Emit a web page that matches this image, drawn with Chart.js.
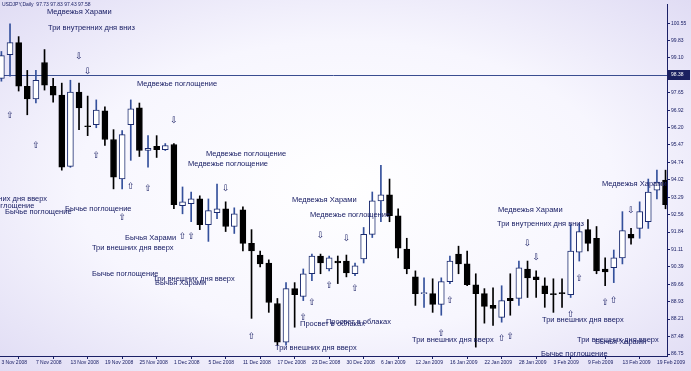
<!DOCTYPE html>
<html>
<head>
<meta charset="utf-8">
<script src="https://cdn.jsdelivr.net/npm/chart.js@4/dist/chart.umd.min.js"></script>
<style>
  html, body { margin: 0; padding: 0; }
  body {
    width: 691px; height: 371px; overflow: hidden;
    background: radial-gradient(ellipse at 50% 50%, #ffffff 0%, #f7f6fe 55%, #e0dcf4 100%);
  }
  canvas { display: block; }
</style>
</head>
<body>
<canvas id="chart" width="691" height="371"></canvas>
<script>
//======================================================================
// USDJPY daily candles with candlestick pattern notes.
//======================================================================

// Date labels on the time axis (bar number, label).
var tickBars  = [0, 4, 8, 12, 16, 20, 24, 28, 32, 36, 40, 44, 48, 52, 56, 60, 64, 68, 72, 76];
var tickDates = ['3 Nov 2008', '7 Nov 2008', '13 Nov 2008', '19 Nov 2008', '25 Nov 2008',
                 '1 Dec 2008', '5 Dec 2008', '11 Dec 2008', '17 Dec 2008', '23 Dec 2008',
                 '30 Dec 2008', '6 Jan 2009', '12 Jan 2009', '16 Jan 2009', '22 Jan 2009',
                 '28 Jan 2009', '3 Feb 2009', '9 Feb 2009', '13 Feb 2009', '19 Feb 2009'];

// Price axis labels.
var priceTicks = [100.55, 99.83, 99.10, 98.38, 97.65, 96.92, 96.20, 95.47, 94.74, 94.02,
                  93.29, 92.56, 91.84, 91.11, 90.39, 89.66, 88.93, 88.21, 87.48, 86.75];

var bidPrice = 98.38;

// OHLC, one value per bar.
var opens = [98.25, 99.24, 99.74, 97.92, 97.39, 98.91, 97.92, 97.55, 94.58, 97.68,
             96.27, 96.32, 96.89, 95.70, 94.05, 96.32, 97.02, 95.24, 95.41, 95.28,
             95.49, 92.94, 93.02, 93.22, 92.15, 92.65, 92.81, 92.07, 92.77, 91.37,
             90.88, 90.55, 88.86, 87.25, 89.48, 89.15, 90.10, 90.84, 90.30, 90.63,
             90.63, 90.10, 90.72, 91.74, 93.14, 93.39, 92.52, 91.13, 89.97, 89.27,
             89.27, 88.82, 89.77, 90.92, 90.51, 89.64, 89.27, 88.78, 88.28, 89.07,
             89.07, 90.30, 89.97, 89.60, 89.27, 89.31, 89.23, 91.00, 91.94, 91.58,
             90.30, 90.35, 90.76, 91.74, 91.99, 92.27, 93.59, 94.01];
var highs = [99.37, 100.52, 99.99, 98.58, 98.58, 99.45, 98.25, 98.05, 98.17, 98.05,
             97.51, 97.35, 97.06, 96.11, 96.07, 97.35, 97.22, 95.86, 95.86, 95.53,
             95.53, 93.72, 93.51, 93.35, 93.22, 93.84, 93.10, 92.85, 92.89, 91.94,
             91.05, 90.68, 89.07, 89.73, 89.73, 90.30, 90.92, 90.92, 90.84, 90.84,
             90.88, 90.55, 92.03, 93.51, 94.62, 94.05, 92.81, 91.58, 90.22, 89.93,
             89.89, 89.93, 90.84, 91.25, 91.05, 90.10, 89.48, 89.51, 89.60, 90.10,
             90.63, 90.63, 90.22, 89.93, 89.89, 89.89, 92.15, 92.19, 92.36, 92.07,
             90.76, 91.09, 92.69, 91.99, 93.10, 94.05, 94.42, 94.42];
var lows  = [98.13, 98.34, 97.72, 96.73, 97.22, 97.76, 97.26, 94.42, 94.54, 96.11,
             95.86, 96.19, 95.45, 93.64, 93.64, 94.83, 94.99, 94.54, 94.95, 95.24,
             92.81, 92.60, 92.27, 91.94, 91.45, 92.40, 91.86, 91.78, 91.05, 88.24,
             90.39, 88.49, 87.12, 87.12, 87.87, 88.98, 89.81, 90.10, 90.22, 89.69,
             89.97, 90.02, 90.55, 91.61, 92.27, 92.27, 90.76, 90.10, 88.78, 88.70,
             88.49, 88.37, 89.69, 90.10, 89.60, 87.04, 88.04, 87.95, 88.08, 88.37,
             88.78, 89.11, 89.11, 88.70, 88.49, 88.70, 89.11, 90.63, 91.05, 90.10,
             89.60, 89.73, 90.51, 91.33, 91.58, 91.99, 93.22, 92.81];
var closes = [99.20, 99.74, 97.92, 97.39, 98.17, 97.96, 97.55, 94.54, 97.68, 97.02,
              96.23, 96.93, 95.70, 94.13, 95.90, 96.98, 95.24, 95.33, 95.28, 95.45,
              92.98, 93.10, 93.22, 92.15, 92.73, 92.81, 92.07, 92.60, 91.37, 91.05,
              90.51, 88.90, 87.25, 89.48, 89.23, 90.10, 90.84, 90.55, 90.76, 90.55,
              90.14, 90.43, 91.74, 93.14, 93.39, 92.52, 91.17, 90.30, 89.27, 89.31,
              88.82, 89.77, 90.63, 90.51, 89.64, 89.27, 88.74, 88.65, 88.98, 88.98,
              90.35, 89.93, 89.85, 89.27, 89.23, 89.27, 91.05, 91.86, 91.37, 90.22,
              90.18, 90.76, 91.90, 91.58, 92.69, 93.51, 93.92, 92.98];

// Pattern arrows: bar, price, up (1) or down (0).
var arrowBars   = [1, 9, 10, 4, 11, 20, 15, 17, 14, 26, 21, 22, 37, 40, 38, 41, 36, 35, 29,
                   61, 62, 52, 51, 58, 59, 66, 67, 70, 71, 73];
var arrowPrices = [96.69, 99.16, 98.54, 95.45, 95.04, 96.48, 93.72, 93.64, 92.44, 93.64, 91.66, 91.66,
                   91.70, 91.58, 89.60, 89.48, 88.90, 88.28, 87.49,
                   91.37, 90.79, 88.98, 87.61, 87.41, 87.49, 88.40, 89.89, 88.90, 88.98, 92.73];
var arrowUp     = [1, 0, 0, 1, 1, 0, 1, 1, 1, 0, 1, 1, 0, 0, 1, 1, 1, 1, 1,
                   0, 0, 1, 1, 1, 1, 1, 1, 1, 1, 0];

// Pattern notes: text, bar where the text starts, price.
var noteTexts = ['Медвежья Харами', 'Три внутренних дня вниз', 'Медвежье поглощение',
                 'Медвежье поглощение', 'Медвежье поглощение', 'Три внутренних дня вверх',
                 'Бычье поглощение', 'Бычье поглощение', 'Бычье поглощение', 'Бычья Харами',
                 'Три внешних дня вверх', 'Бычье поглощение', 'Три внешних дня вверх', 'Бычья Харами',
                 'Просвет в облаках', 'Просвет в облаках', 'Три внешних дня вверх', 'Медвежья Харами',
                 'Медвежье поглощение', 'Медвежья Харами', 'Три внутренних дня вниз', 'Медвежья Харами',
                 'Три внешних дня вверх', 'Три внешних дня вверх', 'Три внешних дня вверх',
                 'Бычья Харами', 'Бычье поглощение'];
var noteBars   = [5.29, 5.40, 15.72, 23.72, 21.63, -5.27, -3.90, 0.42, 7.37, 14.33,
                  10.50, 10.50, 17.58, 17.81, 34.62, 37.63, 31.72, 33.69,
                  35.78, 57.58, 57.46, 69.63, 47.61, 62.68, 66.74, 68.82, 62.56];
var notePrices = [101.02, 100.36, 98.01, 95.08, 94.67, 93.22, 92.94, 92.69, 92.81, 91.61,
                  91.17, 90.10, 89.89, 89.72, 87.99, 88.11, 87.00, 93.18,
                  92.56, 92.77, 92.19, 93.84, 87.33, 88.19, 87.33, 87.25, 86.75];

var header = 'USDJPY,Daily  97.73 97.83 97.43 97.58';

// Colours.
var ink = '#1b2066';
var bullFill = '#ffffff', bullLine = '#1c2c70', bullWick = '#34509c';
var bearFill = '#000000', bearWick = '#000000';

/**
 * Draws the bid line, arrows, notes and the chart header.
 */
var notesPlugin = {
  id: 'notes',
  beforeDatasetsDraw: function(chart) {
    var ctx = chart.ctx, a = chart.chartArea;
    var yb = Math.round(chart.scales.y.getPixelForValue(bidPrice)) + 0.5;
    ctx.save();
    ctx.strokeStyle = '#3a4d90';
    ctx.lineWidth = 1;
    ctx.beginPath();
    ctx.moveTo(a.left, yb);
    ctx.lineTo(a.right, yb);
    ctx.stroke();
    ctx.restore();
  },
  afterDatasetsDraw: function(chart) {
    var ctx = chart.ctx, a = chart.chartArea;
    var x = chart.scales.x, y = chart.scales.y;
    ctx.save();
    ctx.beginPath();
    ctx.rect(a.left, a.top, a.right - a.left, a.bottom - a.top);
    ctx.clip();
    ctx.fillStyle = ink;

    // Arrows.
    ctx.font = '9px "DejaVu Sans"';
    ctx.textAlign = 'center';
    ctx.textBaseline = 'middle';
    for (var i = 0; i < arrowBars.length; i++) {
      ctx.fillText(arrowUp[i] ? '\u21E7' : '\u21E9',
        x.getPixelForValue(arrowBars[i]), y.getPixelForValue(arrowPrices[i]));
    }

    // Notes.
    ctx.font = '7.5px "Liberation Sans", Arial, sans-serif';
    ctx.textAlign = 'left';
    for (var j = 0; j < noteTexts.length; j++) {
      ctx.fillText(noteTexts[j], x.getPixelForValue(noteBars[j]), y.getPixelForValue(notePrices[j]));
    }
    ctx.restore();
  },
  afterDraw: function(chart) {
    var ctx = chart.ctx, a = chart.chartArea;
    var yb = Math.round(chart.scales.y.getPixelForValue(bidPrice));
    ctx.save();
    // Bid price box on the price axis.
    ctx.fillStyle = '#1a2060';
    ctx.fillRect(a.right + 1, yb - 5, 22, 10);
    ctx.fillStyle = '#ffffff';
    ctx.font = '5px "Liberation Sans", Arial, sans-serif';
    ctx.textBaseline = 'middle';
    ctx.fillText(bidPrice.toFixed(2), a.right + 4, yb);
    // Header.
    ctx.fillStyle = ink;
    ctx.fillText(header, 2, 5);
    ctx.restore();
  }
};

// Build bars from the OHLC lists.
var wicks = [], bodies = [], bodyFills = [], bodyLines = [], wickColors = [];
for (var k = 0; k < opens.length; k++) {
  var up = closes[k] >= opens[k];
  wicks.push({ x: k, y: [lows[k], highs[k]] });
  bodies.push({ x: k, y: [opens[k], closes[k]] });
  bodyFills.push(up ? bullFill : bearFill);
  bodyLines.push(up ? bullLine : bearFill);
  wickColors.push(up ? bullWick : bearWick);
}

Chart.defaults.font.family = '"Liberation Sans", Arial, sans-serif';

new Chart(document.getElementById('chart'), {
  type: 'bar',
  data: {
    datasets: [{
      data: bodies,
      backgroundColor: bodyFills,
      borderColor: bodyLines,
      borderWidth: 1,
      borderSkipped: false,
      barThickness: 6,
      minBarLength: 1,
      grouped: false
    }, {
      data: wicks,
      backgroundColor: wickColors,
      borderWidth: 0,
      barThickness: 1,
      grouped: false
    }]
  },
  options: {
    responsive: false,
    devicePixelRatio: 1,
    animation: false,
    layout: { padding: 0 },
    plugins: { legend: { display: false }, tooltip: { enabled: false } },
    scales: {
      x: {
        type: 'linear',
        offset: false,
        min: -0.162,
        max: 77.17,
        afterBuildTicks: function(scale) {
          scale.ticks = tickBars.map(function(b) { return { value: b }; });
        },
        afterFit: function(scale) { scale.height = 15; },
        ticks: {
          autoSkip: false,
          maxRotation: 0,
          align: 'start',
          padding: 1,
          color: ink,
          font: { size: 5 },
          callback: function(value) { return tickDates[tickBars.indexOf(value)]; }
        },
        grid: { drawOnChartArea: false, drawTicks: true, tickLength: 3, color: ink },
        border: { display: true, color: ink, width: 1 }
      },
      y: {
        position: 'right',
        min: 86.67,
        max: 101.35,
        afterBuildTicks: function(scale) {
          scale.ticks = priceTicks.map(function(v) { return { value: v }; });
        },
        afterFit: function(scale) { scale.width = 24; },
        ticks: {
          padding: 1,
          color: ink,
          font: { size: 5 },
          callback: function(value) { return value.toFixed(2); }
        },
        grid: { drawOnChartArea: false, drawTicks: true, tickLength: 3, color: ink },
        border: { display: true, color: ink, width: 1 }
      }
    }
  },
  plugins: [notesPlugin]
});
</script>
</body>
</html>
